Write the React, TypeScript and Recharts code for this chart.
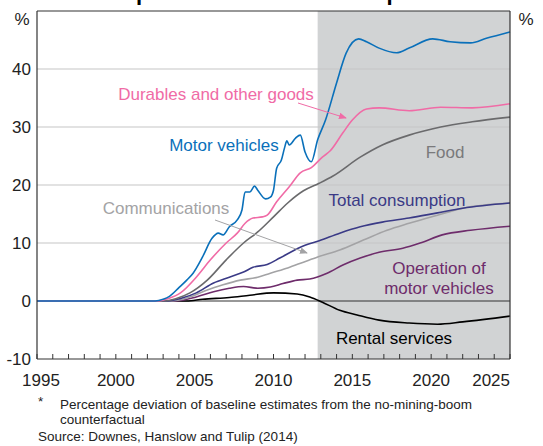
import {
  LineChart,
  Line,
  XAxis,
  YAxis,
  ReferenceArea,
  ReferenceLine,
} from "recharts";

// values, [year, % deviation]
const motorVehicles = [
  [1995, 0], [2002.5, 0], [2003, 0.3], [2003.4, 0.8], [2004, 2.3], [2004.5, 3.6],
  [2004.9, 4.8], [2005.5, 7.6], [2006.1, 10.8], [2006.5, 11.7], [2006.8, 11.4],
  [2007.2, 12.8], [2007.7, 14.0], [2008.0, 15.7], [2008.2, 18.8], [2008.5, 18.8],
  [2008.8, 19.8], [2009.0, 19.1], [2009.5, 17.6], [2009.8, 17.9], [2010.0, 19.1],
  [2010.2, 22.9], [2010.5, 24.3], [2010.7, 26.4], [2010.85, 27.6], [2011.0, 26.9],
  [2011.4, 28.1], [2011.7, 28.6], [2012.0, 25.7], [2012.4, 24.0], [2012.8, 27.8],
  [2013.3, 31.2], [2014.0, 37.6], [2014.6, 42.7], [2015.4, 45.2], [2015.9, 44.7],
  [2016.7, 43.6], [2017.8, 42.8], [2018.6, 43.6], [2020.1, 45.2], [2021.2, 44.7],
  [2022.5, 44.5], [2023.5, 45.3], [2025, 46.4],
];
const durables = [
  [1995, 0], [2002.7, 0], [2003.3, 0.4], [2004.1, 1.4], [2005.1, 4.1], [2006.0, 7.1],
  [2007.0, 10.0], [2007.7, 11.7], [2008.2, 13.4], [2008.7, 14.3], [2009.3, 14.5],
  [2009.6, 14.8], [2010.2, 17.1], [2011.0, 19.7], [2011.7, 22.1], [2012.4, 23.0],
  [2013.1, 24.8], [2013.6, 25.9], [2014.4, 29.0], [2015.0, 31.2], [2015.9, 33.1],
  [2016.7, 33.3], [2018.6, 32.8], [2020.6, 33.4], [2022.6, 33.3], [2025, 34.0],
];
const food = [
  [1995, 0], [2003, 0], [2003.8, 0.4], [2004.7, 1.4], [2005.8, 3.6], [2007.0, 7.1],
  [2008.1, 10.0], [2009.0, 11.9], [2010.0, 14.5], [2010.9, 16.9], [2011.9, 19.0],
  [2012.9, 20.3], [2013.8, 21.6], [2015.5, 24.8], [2016.9, 26.9], [2018.6, 28.6],
  [2020.6, 30.0], [2022.6, 30.9], [2025, 31.7],
];
const totalConsumption = [
  [1995, 0], [2003.3, 0], [2004.2, 0.5], [2005.1, 1.4], [2006.2, 3.1], [2007.2, 4.1],
  [2008.1, 5.0], [2008.7, 5.8], [2009.6, 6.3], [2010.4, 7.4], [2011.5, 9.0],
  [2012.0, 9.6], [2012.9, 10.4], [2014.2, 11.7], [2015.5, 12.8], [2016.9, 13.6],
  [2018.6, 14.3], [2020.4, 15.2], [2022.0, 16.0], [2025, 16.9],
];
const communications = [
  [1995, 0], [2003.5, 0], [2004.6, 0.6], [2005.8, 1.9], [2006.8, 2.8], [2007.9, 3.6],
  [2009.0, 4.1], [2009.8, 4.8], [2010.9, 5.7], [2011.9, 6.7], [2012.8, 7.6],
  [2014.2, 8.8], [2015.7, 10.5], [2017.2, 12.2], [2018.6, 13.4], [2020.4, 14.8],
  [2022.0, 16.0], [2025, 16.9],
];
const operationMV = [
  [1995, 0], [2003.8, 0], [2005.1, 0.7], [2006.2, 1.6], [2007.2, 2.2], [2008.1, 2.5],
  [2009.0, 2.2], [2009.8, 2.4], [2010.6, 3.0], [2011.5, 3.6], [2012.3, 3.8],
  [2013.4, 4.8], [2014.4, 6.2], [2015.5, 7.4], [2016.7, 8.4], [2018.2, 9.1],
  [2019.3, 10.0], [2020.7, 11.4], [2022.5, 12.2], [2025, 12.9],
];
const rental = [
  [1995, 0], [2004.5, 0], [2005.5, 0.3], [2007.2, 0.6], [2008.5, 1.0], [2010, 1.4],
  [2011.5, 1.2], [2012.3, 0.7], [2013.1, -0.2], [2014.2, -1.6], [2015.3, -2.4],
  [2016.7, -3.3], [2018.6, -3.8], [2020.4, -4.0], [2022.0, -3.6], [2025, -2.6],
];

const projectionStart = 2012.8;
const xTicks = [
  1995, 1996, 1997, 1998, 1999, 2000, 2001, 2002, 2003, 2004, 2005, 2006, 2007,
  2008, 2009, 2010, 2011, 2012, 2013, 2014, 2015, 2016, 2017, 2018, 2019, 2020,
  2021, 2022, 2023, 2024, 2025,
];
const yTicks = [-10, 0, 10, 20, 30, 40];
const gridLines = [10, 20, 30, 40];

const FONT = "'Liberation Sans', Arial, sans-serif";

const toRows = (pts: number[][]) => pts.map(([x, v]) => ({ x, v }));

const series = [
  { name: "Rental services", pts: rental, color: "#000000" },
  { name: "Operation of motor vehicles", pts: operationMV, color: "#6e2c6b" },
  { name: "Communications", pts: communications, color: "#a3a3a5" },
  { name: "Total consumption", pts: totalConsumption, color: "#3a3a86" },
  { name: "Food", pts: food, color: "#6a6a6c" },
  { name: "Durables and other goods", pts: durables, color: "#f06ba6" },
  { name: "Motor vehicles", pts: motorVehicles, color: "#0a70ba" },
];

// year labels every 5 years; the two end labels are pulled inside the frame
function YearTick(props: any) {
  const { x, y, payload } = props;
  const yr = payload.value;
  if (yr % 5 !== 0) return <g />;
  let anchor = "middle";
  let dx = 0;
  if (yr === xTicks[0]) dx = 4;
  if (yr === xTicks[xTicks.length - 1]) anchor = "end";
  return (
    <text
      x={x + dx}
      y={y}
      dy="0.71em"
      textAnchor={anchor}
      fontSize={17}
      fill="#222"
      fontFamily={FONT}
    >
      {yr}
    </text>
  );
}

export default function App() {
  return (
    <div
      style={{
        position: "absolute",
        left: 0,
        top: 0,
        width: 543,
        height: 446,
        background: "#fff",
        fontFamily: FONT,
      }}
    >
      <LineChart
        width={543}
        height={446}
        margin={{ top: 11, right: 0, left: 0, bottom: 57 }}
      >
        <XAxis
          dataKey="x"
          type="number"
          domain={[1995, 2025]}
          ticks={xTicks}
          interval={0}
          allowDuplicatedCategory={false}
          height={30}
          tickSize={-5}
          tickMargin={20}
          tickLine={{ stroke: "#333" }}
          axisLine={{ stroke: "#333", strokeWidth: 1.2 }}
          tick={(p: any) => <YearTick {...p} />}
        />
        <YAxis
          yAxisId="l"
          orientation="left"
          width={37}
          domain={[-10, 50]}
          ticks={yTicks}
          tickSize={0}
          tickMargin={6}
          axisLine={{ stroke: "#333", strokeWidth: 1.2 }}
          tick={{ fontSize: 17, fill: "#222", fontFamily: FONT }}
        />
        <YAxis
          yAxisId="r"
          orientation="right"
          width={33}
          domain={[-10, 50]}
          ticks={yTicks}
          tickSize={0}
          tickMargin={6}
          axisLine={{ stroke: "#333", strokeWidth: 1.2 }}
          tick={{ fontSize: 17, fill: "#222", fontFamily: FONT }}
        />
        <ReferenceArea
          yAxisId="l"
          x1={projectionStart}
          x2={2025}
          y1={-10}
          y2={50}
          fill="#d1d3d4"
          fillOpacity={1}
          stroke="none"
        />
        {gridLines.map((g) => (
          <ReferenceLine key={g} yAxisId="l" y={g} stroke="#c6c6c6" strokeWidth={1.2} />
        ))}
        <ReferenceLine yAxisId="l" y={0} stroke="#333" strokeWidth={1.2} />
        <ReferenceLine yAxisId="l" y={50} stroke="#333" strokeWidth={1.2} />
        {series.map((s) => (
          <Line
            key={s.name}
            yAxisId="l"
            data={toRows(s.pts)}
            dataKey="v"
            type="monotone"
            stroke={s.color}
            strokeWidth={1.6}
            dot={false}
            isAnimationActive={false}
          />
        ))}
      </LineChart>

      {/* title (cut off at the top, as in the source), labels, arrows, notes */}
      <svg
        width={543}
        height={446}
        style={{ position: "absolute", left: 0, top: 0, pointerEvents: "none" }}
        fontFamily={FONT}
      >
        <defs>
          <marker id="arrPink" markerWidth="8" markerHeight="8" refX="7" refY="4" orient="auto">
            <path d="M0,0.8 L8,4 L0,7.2 z" fill="#f06ba6" />
          </marker>
          <marker id="arrGrey" markerWidth="8" markerHeight="8" refX="7" refY="4" orient="auto">
            <path d="M0,0.8 L8,4 L0,7.2 z" fill="#a3a3a5" />
          </marker>
        </defs>
        <text x={48} y={0} fontSize={22} fontWeight="bold" fill="#000">
          Consumption and Selected Components*
        </text>
        <text x={22} y={25} fontSize={17} fill="#222" textAnchor="middle">%</text>
        <text x={526} y={25} fontSize={17} fill="#222" textAnchor="middle">%</text>

        <text x={216} y={100} fontSize={17} fill="#f06ba6" textAnchor="middle">
          Durables and other goods
        </text>
        <line x1={298} y1={103} x2={346} y2={118} stroke="#f06ba6" strokeWidth={1} markerEnd="url(#arrPink)" />
        <text x={224} y={151} fontSize={17} fill="#0a70ba" textAnchor="middle">Motor vehicles</text>
        <text x={445} y={158} fontSize={17} fill="#7a7a7c" textAnchor="middle">Food</text>
        <text x={397} y={206} fontSize={17} fill="#3a3a86" textAnchor="middle">Total consumption</text>
        <text x={166} y={214} fontSize={17} fill="#a3a3a5" textAnchor="middle">Communications</text>
        <line x1={215} y1={220} x2={307} y2={253} stroke="#a3a3a5" strokeWidth={1} markerEnd="url(#arrGrey)" />
        <text x={439} y={274} fontSize={17} fill="#6e2c6b" textAnchor="middle">Operation of</text>
        <text x={439} y={294} fontSize={17} fill="#6e2c6b" textAnchor="middle">motor vehicles</text>
        <text x={394} y={344} fontSize={17} fill="#000" textAnchor="middle">Rental services</text>

        <text x={38} y={406} fontSize={13.5} fill="#222">*</text>
        <text x={60} y={409} fontSize={13.5} fill="#222">
          Percentage deviation of baseline estimates from the no-mining-boom
        </text>
        <text x={60} y={424} fontSize={13.5} fill="#222">counterfactual</text>
        <text x={38} y={441} fontSize={13.5} fill="#222">
          Source: Downes, Hanslow and Tulip (2014)
        </text>
      </svg>
    </div>
  );
}
